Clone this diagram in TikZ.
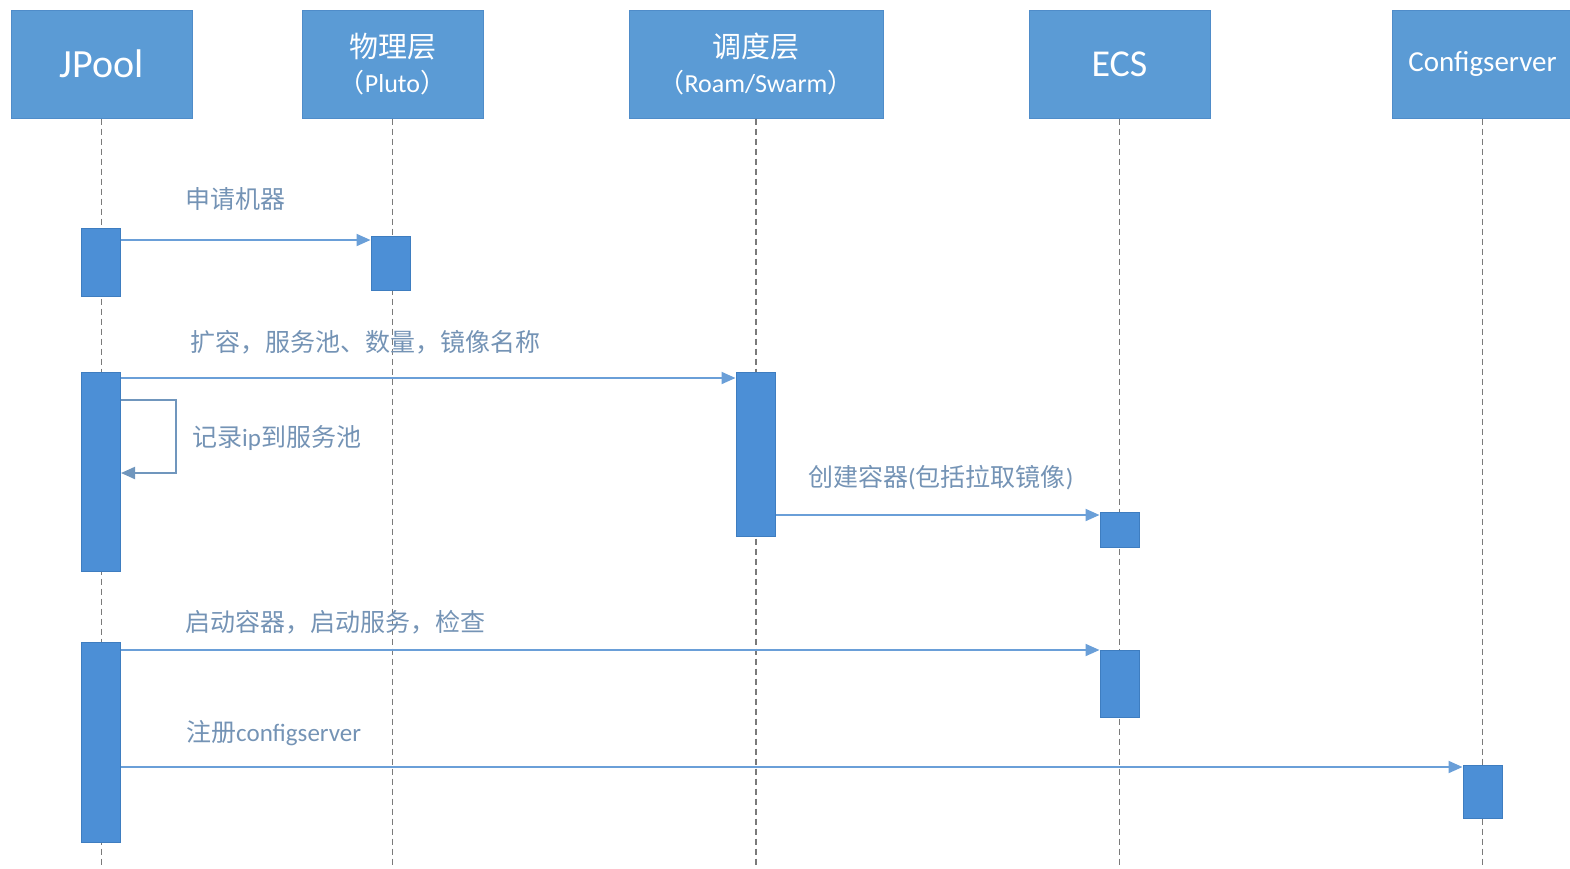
\documentclass[tikz,border=0pt]{standalone}
\usepackage{fontspec}
\setmainfont{Carlito}
\newfontfamily\cjk{Noto Sans CJK SC}
\usetikzlibrary{arrows.meta}
\definecolor{hdr}{HTML}{5B9BD5}
\definecolor{hdrb}{HTML}{4F8CC9}
\definecolor{actf}{HTML}{4C8FD6}
\definecolor{actb}{HTML}{3E7DC0}
\definecolor{msg}{HTML}{6A9FD8}
\definecolor{lbl}{HTML}{7493B5}
\definecolor{life}{HTML}{7A7A7A}
\tikzset{
  header/.style={draw=hdrb, fill=hdr, line width=1pt, minimum width=181pt, minimum height=108pt, inner sep=0pt, text=white, align=center},
  actbox/.style={draw=actb, fill=actf, line width=1pt, minimum width=39pt, inner sep=0pt},
  lifeline/.style={draw=life, line width=1.6pt, dash pattern=on 6pt off 4pt},
  msgline/.style={draw=msg, line width=2pt, -{Triangle[length=14pt,width=12pt]}},
  selfline/.style={draw=msg!70!gray, line width=2pt, -{Triangle[length=14pt,width=12pt]}},
  lbltext/.style={text=lbl, inner sep=0pt, anchor=west, font=\fontsize{25pt}{29pt}\selectfont}
}
\newcommand{\zh}[1]{{\cjk #1}}
\begin{document}
\begin{tikzpicture}[x=1pt,y=1pt]
\useasboundingbox (0,0) rectangle (1570,-868);
% headers
\node[header, font=\fontsize{40pt}{44pt}\selectfont] (jpool) at (101.5,-64) {JPool};
\node[header] (pluto) at (392.5,-64) {{\cjk\fontsize{29pt}{34pt}\selectfont 物理层}\\[9pt]{\fontsize{26pt}{30pt}\selectfont\cjk （\normalfont Pluto\cjk ）}};
\node[header, minimum width=254pt] (roam) at (756,-64) {{\cjk\fontsize{29pt}{34pt}\selectfont 调度层}\\[9pt]{\fontsize{26pt}{30pt}\selectfont\cjk （\normalfont Roam/Swarm\cjk ）}};
\node[header, font=\fontsize{38pt}{44pt}\selectfont] (ecs) at (1119.5,-64) {ECS};
\node[header, font=\fontsize{29pt}{34pt}\selectfont] (cfg) at (1482.5,-64) {Configserver};
% lifelines
\foreach \n in {jpool,pluto,roam,ecs,cfg}{
  \draw[lifeline] (\n.south) -- (\n.south |- 0,-868);
}
% activations
\node[actbox, minimum height=68pt] (j1) at (101,-262) {};
\node[actbox, minimum height=54pt] (p1) at (390.5,-263) {};
\node[actbox, minimum height=199pt] (j2) at (101,-471.5) {};
\node[actbox, minimum height=164pt] (r1) at (755.5,-454) {};
\node[actbox, minimum height=35pt] (e1) at (1119.5,-529.5) {};
\node[actbox, minimum height=200pt] (j3) at (101,-742) {};
\node[actbox, minimum height=67pt] (e2) at (1119.5,-683.5) {};
\node[actbox, minimum height=53pt] (c1) at (1482.5,-791.5) {};
% message y levels
\coordinate (m1) at (0,-240);
\coordinate (m2) at (0,-378);
\coordinate (m3a) at (0,-400);
\coordinate (m3b) at (0,-473);
\coordinate (m4) at (0,-515);
\coordinate (m5) at (0,-650);
\coordinate (m6) at (0,-767);
% messages
\draw[msgline] (j1.east |- m1) -- (p1.west |- m1);
\node[lbltext] (l1) at (185,-199) {\zh{申请机器}};
\draw[msgline] (j2.east |- m2) -- (r1.west |- m2);
\node[lbltext] (l2) at (190,-342) {\zh{扩容，服务池、数量，镜像名称}};
\draw[selfline] (j2.east |- m3a) -- ++(55,0) |- (j2.east |- m3b);
\node[lbltext] (l3) at (192,-438) {\zh{记录}ip\zh{到服务池}};
\draw[msgline] (r1.east |- m4) -- (e1.west |- m4);
\node[lbltext] (l4) at (808,-478) {\zh{创建容器}(\zh{包括拉取镜像})};
\draw[msgline] (j3.east |- m5) -- (e2.west |- m5);
\node[lbltext] (l5) at (185,-622) {\zh{启动容器，启动服务，检查}};
\draw[msgline] (j3.east |- m6) -- (c1.west |- m6);
\node[lbltext] (l6) at (186,-733) {\zh{注册}configserver};
\end{tikzpicture}
\end{document}
